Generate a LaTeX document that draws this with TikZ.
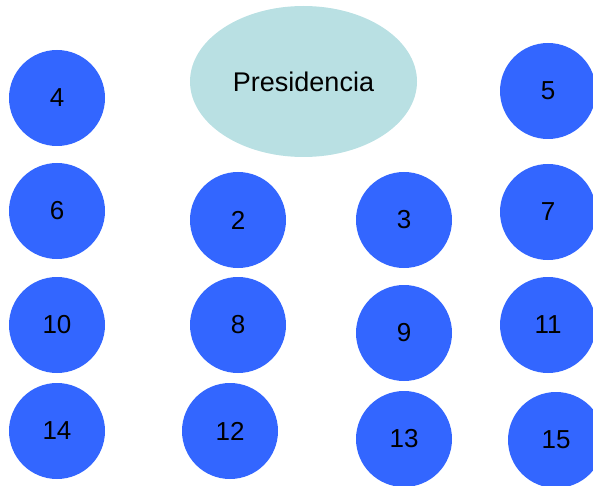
\documentclass[tikz,border=0pt]{standalone}
\usepackage{fontspec}
\setmainfont{Liberation Sans}
\usetikzlibrary{shapes.geometric}
\definecolor{nodeblue}{RGB}{51,102,255}
\definecolor{presteal}{RGB}{185,224,227}

\begin{document}
\begin{tikzpicture}
    [x=1pt, y=-1pt,
    member/.style={circle, fill=nodeblue, minimum size=96pt, inner sep=0pt},
    head/.style={ellipse, fill=presteal, minimum width=227pt, minimum height=151pt, inner sep=0pt,
      font=\fontsize{27}{31}\selectfont},
    font=\fontsize{26}{30}\selectfont]
    \useasboundingbox (0,0) rectangle (593,486);
    \node[head] (P) at (303.5, 81.5) {Presidencia};
    \node[member] (n4) at (57, 98)     {4};
    \node[member] (n5) at (548, 91)    {5};
    \node[member] (n6) at (57, 211)    {6};
    \node[member] (n2) at (238, 220)   {2};
    \node[member] (n3) at (404, 220)   {3};
    \node[member] (n7) at (548, 212)   {7};
    \node[member] (n10) at (57, 325)   {10};
    \node[member] (n8) at (238, 325)   {8};
    \node[member] (n9) at (404, 333)   {9};
    \node[member] (n11) at (548, 325)  {11};
    \node[member] (n14) at (57, 431)   {14};
    \node[member] (n12) at (230, 431)  {12};
    \node[member] (n13) at (404, 439)  {13};
    \node[member] (n15) at (556, 440)  {15};
\end{tikzpicture}
\end{document}
